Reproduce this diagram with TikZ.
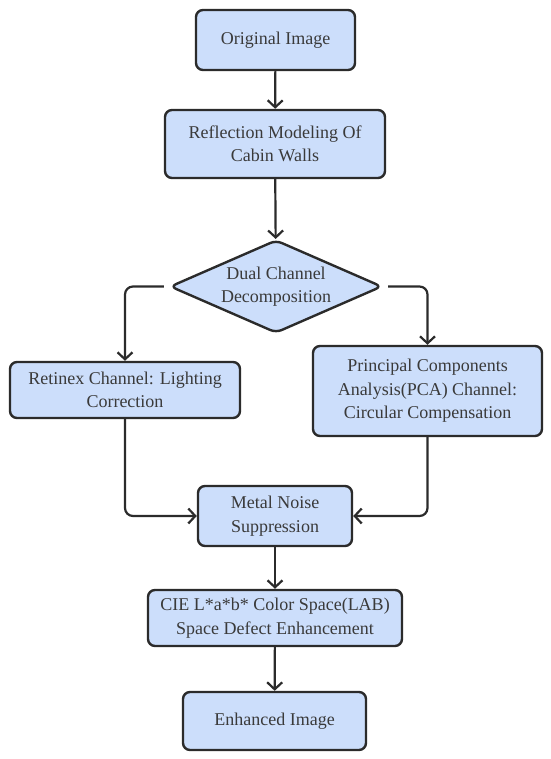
\documentclass[tikz,border=0pt]{standalone}
\usepackage{fontspec}
\setmainfont{Liberation Serif}
\newfontfamily\boxfont{Liberation Serif}
\usetikzlibrary{shapes.geometric,arrows.meta}
\definecolor{boxfill}{HTML}{CCDEFB}
\definecolor{linec}{HTML}{2B2B2B}
\definecolor{textc}{HTML}{3A3A3A}
\tikzset{
  stepbox/.style={draw=linec, line width=2.4pt, fill=boxfill, rounded corners=7pt,
    text=textc, font=\boxfont\fontsize{18}{23.5}\selectfont, align=center, inner sep=0pt},
  decision/.style={draw=linec, line width=2.4pt, fill=boxfill, diamond, aspect=2.27,
    text=textc, font=\boxfont\fontsize{18}{23.5}\selectfont, align=center, inner sep=0pt,
    rounded corners=6pt},
  conn/.style={draw=linec, line width=2.2pt, rounded corners=8pt,
    -{Straight Barb[length=7pt,width=15pt,line width=2.2pt]}}
}
\begin{document}
\begin{tikzpicture}[x=1pt,y=-1pt]
\useasboundingbox (0,0) rectangle (550,759);
\node[stepbox, minimum width=159pt, minimum height=60pt] (orig) at (275.5,40) {Original Image};
\node[stepbox, minimum width=220pt, minimum height=68pt] (refl) at (275,144) {Reflection Modeling Of\\Cabin Walls};
\node[decision, minimum width=212pt, minimum height=93pt] (dual) at (276,286.5) {Dual Channel\\Decomposition};
\node[stepbox, minimum width=230pt, minimum height=56pt] (ret) at (125,390) {Retinex Channel: Lighting\\Correction};
\node[stepbox, minimum width=229pt, minimum height=90pt] (pca) at (427.5,391) {Principal Components\\Analysis(PCA) Channel:\\Circular Compensation};
\node[stepbox, minimum width=154pt, minimum height=60pt] (metal) at (275,516) {Metal Noise\\Suppression};
\node[stepbox, minimum width=254pt, minimum height=56pt] (cie) at (275,618) {CIE L*a*b* Color Space(LAB)\\Space Defect Enhancement};
\node[stepbox, minimum width=183pt, minimum height=58pt] (enh) at (274.5,721) {Enhanced Image};
\coordinate (dl) at ([xshift=-5pt]dual.west);
\coordinate (dr) at ([xshift=5pt]dual.east);
\draw[conn] (orig) -- (refl);
\draw[conn] (refl) -- (dual);
\draw[conn] (dl) -| (ret.north);
\draw[conn] (dr) -| (pca.north);
\draw[conn] (ret.south) |- (metal.west);
\draw[conn] (pca.south) |- (metal.east);
\draw[conn] (metal) -- (cie);
\draw[conn] (cie) -- (enh);
\end{tikzpicture}
\end{document}
